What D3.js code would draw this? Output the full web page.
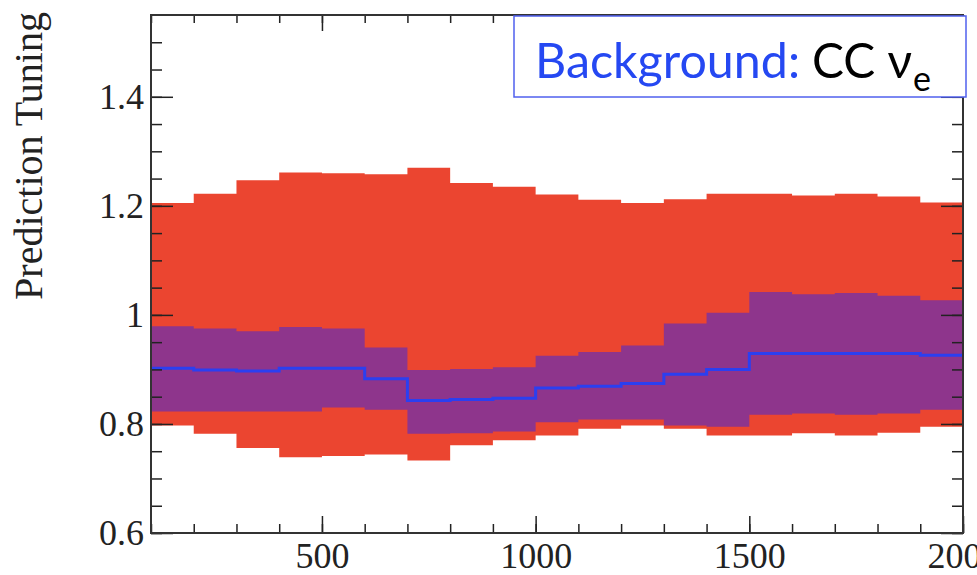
<!DOCTYPE html>
<html>
<head>
<meta charset="utf-8">
<script src="https://cdn.jsdelivr.net/npm/d3@7"></script>
<style>
  body { margin: 0; background: white; }
  svg { display: block; }
</style>
</head>
<body>
<svg id="chart" width="977" height="575"></svg>
<script>
"use strict";

// lower edge of each energy bin, and the end of the last one
var binLow = [100, 200, 300, 400, 500, 600, 700, 800, 900, 1000,
              1100, 1200, 1300, 1400, 1500, 1600, 1700, 1800, 1900];
var binEnd = 2000;

// outer (red) band
var redHigh = [1.205, 1.222, 1.247, 1.261, 1.260, 1.258, 1.270, 1.242, 1.235, 1.221,
               1.211, 1.205, 1.212, 1.222, 1.222, 1.219, 1.222, 1.217, 1.206];
var redLow  = [0.797, 0.782, 0.756, 0.739, 0.741, 0.744, 0.733, 0.761, 0.770, 0.779,
               0.791, 0.797, 0.791, 0.779, 0.779, 0.783, 0.779, 0.784, 0.795];

// inner (purple) band
var purpleHigh = [0.979, 0.975, 0.970, 0.978, 0.975, 0.940, 0.899, 0.901, 0.904, 0.925,
                  0.932, 0.944, 0.984, 1.004, 1.042, 1.038, 1.040, 1.035, 1.027];
var purpleLow  = [0.823, 0.823, 0.823, 0.823, 0.830, 0.826, 0.782, 0.783, 0.786, 0.803,
                  0.808, 0.808, 0.797, 0.795, 0.817, 0.819, 0.817, 0.819, 0.826];

// central value (blue line)
var central = [0.902, 0.899, 0.897, 0.902, 0.902, 0.883, 0.843, 0.845, 0.847, 0.866,
               0.869, 0.874, 0.891, 0.900, 0.929, 0.929, 0.929, 0.929, 0.926];

var xMajor = [500, 1000, 1500, 2000];
var yMajor = [0.6, 0.8, 1.0, 1.2, 1.4];

var margin = {left: 151, top: 15, right: 14, bottom: 42};
var width = 977 - margin.left - margin.right;
var height = 575 - margin.top - margin.bottom;

var svg = d3.select("#chart");
var g = svg.append("g").attr("transform", "translate(" + margin.left + "," + margin.top + ")");

var x = d3.scaleLinear().domain([100, 2000]).range([0, width]);
var y = d3.scaleLinear().domain([0.6, 1.55]).range([height, 0]);

/**
 * Turn a list of bin values into step points (repeat the last value at the end).
 */
function steps(values) {
  var pts = binLow.map(function(d, i) { return {x: d, v: values[i]} });
  pts.push({x: binEnd, v: values[values.length - 1]});
  return pts;
}

function band(low, high) {
  var lo = steps(low), hi = steps(high);
  return lo.map(function(d, i) { return {x: d.x, lo: d.v, hi: hi[i].v} });
}

var area = d3.area()
    .curve(d3.curveStepAfter)
    .x(function(d) { return x(d.x) })
    .y0(function(d) { return y(d.lo) })
    .y1(function(d) { return y(d.hi) });

g.append("path")
    .datum(band(redLow, redHigh))
    .attr("d", area)
    .style("fill", "#eb4530");

g.append("path")
    .datum(band(purpleLow, purpleHigh))
    .attr("d", area)
    .style("fill", "#8e358c");

var line = d3.line()
    .curve(d3.curveStepAfter)
    .x(function(d) { return x(d.x) })
    .y(function(d) { return y(d.v) });

g.append("path")
    .datum(steps(central))
    .attr("d", line)
    .style("fill", "none")
    .style("stroke", "#2b3ff0")
    .style("stroke-width", 3);

// axes: minor ticks first, then major ticks with labels
var xMinor = binLow.concat([binEnd]);
var yMinor = d3.range(0, 19).map(function(i) { return +(0.6 + i * 0.05).toFixed(2) });
var fmt = function(d) { return String(+d.toFixed(1)) };

function styleAxis(sel) {
  sel.select(".domain").remove();
  sel.selectAll("line").style("stroke", "#222").style("stroke-width", 1.5);
  sel.selectAll("text")
      .style("font-family", "'Liberation Serif', 'DejaVu Serif', serif")
      .style("font-size", "36px")
      .style("fill", "#222");
}

g.append("g").attr("transform", "translate(0," + height + ")")
    .call(d3.axisBottom(x).tickValues(xMinor).tickSize(-9).tickFormat(""))
    .call(styleAxis);
g.append("g").attr("transform", "translate(0," + height + ")")
    .call(d3.axisBottom(x).tickValues(xMajor).tickSize(-17).tickPadding(9).tickFormat(d3.format("d")))
    .call(styleAxis);
g.append("g")
    .call(d3.axisTop(x).tickValues(xMinor).tickSize(-8).tickFormat(""))
    .call(styleAxis);
g.append("g")
    .call(d3.axisTop(x).tickValues(xMajor).tickSize(-16).tickFormat(""))
    .call(styleAxis);

g.append("g")
    .call(d3.axisLeft(y).tickValues(yMinor).tickSize(-11).tickFormat(""))
    .call(styleAxis);
g.append("g")
    .call(d3.axisLeft(y).tickValues(yMajor).tickSize(-22).tickPadding(7).tickFormat(fmt))
    .call(styleAxis);
g.append("g").attr("transform", "translate(" + width + ",0)")
    .call(d3.axisRight(y).tickValues(yMinor).tickSize(-11).tickFormat(""))
    .call(styleAxis);
g.append("g").attr("transform", "translate(" + width + ",0)")
    .call(d3.axisRight(y).tickValues(yMajor).tickSize(-22).tickFormat(""))
    .call(styleAxis);

// frame
g.append("rect")
    .attr("width", width)
    .attr("height", height)
    .style("fill", "none")
    .style("stroke", "#333")
    .style("stroke-width", 2);

// y title
svg.append("text")
    .attr("transform", "translate(42,156) rotate(-90)")
    .attr("text-anchor", "middle")
    .style("font-family", "'Liberation Serif', 'DejaVu Serif', serif")
    .style("font-size", "40px")
    .style("fill", "#222")
    .text("Prediction Tuning");

// label box
svg.append("rect")
    .attr("x", 514)
    .attr("y", 16)
    .attr("width", 452)
    .attr("height", 81)
    .style("fill", "white")
    .style("stroke", "#5060ee")
    .style("stroke-width", 1.5);

var boxFont = "Lato, 'Open Sans', sans-serif";
svg.append("text")
    .attr("x", 535).attr("y", 78)
    .attr("textLength", 265).attr("lengthAdjust", "spacingAndGlyphs")
    .style("font-family", boxFont).style("font-size", "49px")
    .style("fill", "#2548f2")
    .text("Background:");
svg.append("text")
    .attr("x", 812).attr("y", 78)
    .attr("textLength", 100).attr("lengthAdjust", "spacingAndGlyphs")
    .style("font-family", boxFont).style("font-size", "49px")
    .style("fill", "black")
    .text("CC \u03bd");
svg.append("text")
    .attr("x", 913).attr("y", 91)
    .style("font-family", boxFont).style("font-size", "34px")
    .style("fill", "black")
    .text("e");
</script>
</body>
</html>
